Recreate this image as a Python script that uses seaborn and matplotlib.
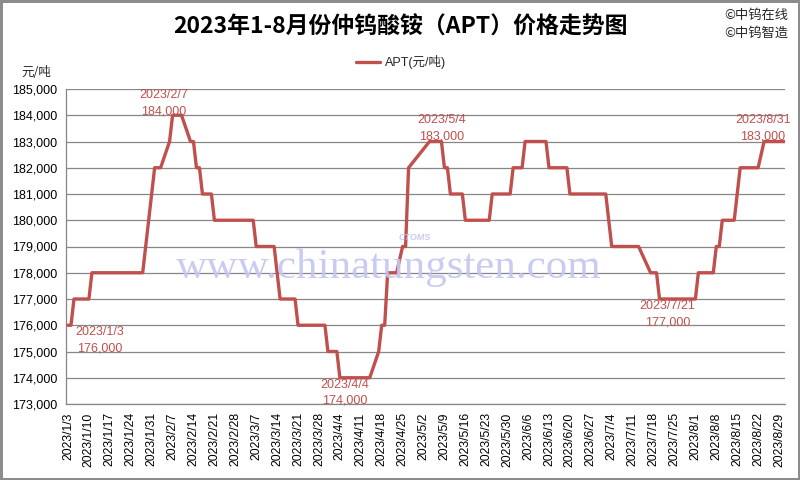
import matplotlib
matplotlib.use("Agg")
import matplotlib.pyplot as plt
import seaborn as sns
import pandas as pd
from matplotlib.ticker import FuncFormatter

# ---------------- data ----------------
dates = ["2023-01-03", "2023-01-04", "2023-01-05", "2023-01-10", "2023-01-11", "2023-01-28",
         "2023-02-01", "2023-02-03", "2023-02-06", "2023-02-07", "2023-02-10", "2023-02-13",
         "2023-02-14", "2023-02-15", "2023-02-16", "2023-02-17", "2023-02-20", "2023-02-21",
         "2023-03-06", "2023-03-07", "2023-03-13", "2023-03-15", "2023-03-20", "2023-03-21",
         "2023-03-30", "2023-03-31",
         "2023-04-03", "2023-04-04", "2023-04-14", "2023-04-17", "2023-04-18", "2023-04-19",
         "2023-04-20", "2023-04-23", "2023-04-25", "2023-04-26", "2023-04-27",
         "2023-05-04", "2023-05-08", "2023-05-09", "2023-05-10", "2023-05-11", "2023-05-15",
         "2023-05-16", "2023-05-24", "2023-05-25", "2023-05-31",
         "2023-06-01", "2023-06-04", "2023-06-05", "2023-06-12", "2023-06-13", "2023-06-19",
         "2023-06-20",
         "2023-07-02", "2023-07-04", "2023-07-13", "2023-07-17", "2023-07-19", "2023-07-20",
         "2023-08-01", "2023-08-02", "2023-08-07", "2023-08-08", "2023-08-09", "2023-08-10",
         "2023-08-14", "2023-08-16", "2023-08-22", "2023-08-24", "2023-08-31"]
prices = [176000, 176000, 177000, 177000, 178000, 178000,
          182000, 182000, 183000, 184000, 184000, 183000,
          183000, 182000, 182000, 181000, 181000, 180000,
          180000, 179000, 179000, 177000, 177000, 176000,
          176000, 175000,
          175000, 174000, 174000, 175000, 176000, 176000,
          178000, 178000, 179000, 179000, 182000,
          183000, 183000, 182000, 182000, 181000, 181000,
          180000, 180000, 181000, 181000,
          182000, 182000, 183000, 183000, 182000, 182000,
          181000,
          181000, 179000, 179000, 178000, 178000, 177000,
          177000, 178000, 178000, 179000, 179000, 180000,
          180000, 182000, 182000, 183000, 183000]

tick_labels = ["2023/1/3", "2023/1/10", "2023/1/17", "2023/1/24", "2023/1/31", "2023/2/7",
               "2023/2/14", "2023/2/21", "2023/2/28", "2023/3/7", "2023/3/14", "2023/3/21",
               "2023/3/28", "2023/4/4", "2023/4/11", "2023/4/18", "2023/4/25", "2023/5/2",
               "2023/5/9", "2023/5/16", "2023/5/23", "2023/5/30", "2023/6/6", "2023/6/13",
               "2023/6/20", "2023/6/27", "2023/7/4", "2023/7/11", "2023/7/18", "2023/7/25",
               "2023/8/1", "2023/8/8", "2023/8/15", "2023/8/22", "2023/8/29"]
y_ticks = [173000, 174000, 175000, 176000, 177000, 178000, 179000,
           180000, 181000, 182000, 183000, 184000, 185000]

annot_dates = ["2023-01-03", "2023-02-07", "2023-04-04", "2023-05-04", "2023-07-21", "2023-08-31"]
annot_values = [176000, 184000, 174000, 183000, 177000, 183000]
annot_offsets = [(32, -15), (-9, 12), (5, -15), (12, 13), (5, -15), (-22, 13)]

series_name = "APT(元/吨)"
title = "2023年1-8月份仲钨酸铵（APT）价格走势图"

# ---------------- style ----------------
sns.set_theme(style="white")
plt.rcParams['font.family'] = ['Liberation Sans', 'Noto Sans CJK SC', 'DejaVu Sans']
LINE = "#C0504D"
GRID = "#878787"

df = pd.DataFrame({"date": pd.to_datetime(dates), "price": prices})

fig = plt.figure(figsize=(8, 4.8), dpi=100)
fig.patch.set_facecolor("white")
fig.patch.set_edgecolor("#8c8c8c")
fig.patch.set_linewidth(2.5)
ax = fig.add_axes([66 / 800, 1 - 404 / 480, (785 - 66) / 800, (404 - 89) / 480])

sns.lineplot(data=df, x="date", y="price", ax=ax, color=LINE, linewidth=2.4,
             label=series_name, zorder=3, legend=False)

start = pd.Timestamp("2023-01-03")
ax.set_xlim(start - pd.Timedelta(days=0.67), start + pd.Timedelta(days=240.0))
ax.set_ylim(173000, 185000)
ax.set_yticks(y_ticks)
ax.yaxis.set_major_formatter(FuncFormatter(lambda v, p: f"{int(v):,}"))
tick_pos = pd.to_datetime(tick_labels, format="%Y/%m/%d")
ax.set_xticks(tick_pos)
ax.set_xticklabels(tick_labels, rotation=90)
ax.set_xlabel("")
ax.set_ylabel("")

ax.grid(axis="y", color=GRID, linewidth=0.9)
ax.grid(axis="x", visible=False)
ax.set_axisbelow(True)
for s in ["top", "right"]:
    ax.spines[s].set_visible(False)
for s in ["left", "bottom"]:
    ax.spines[s].set_color(GRID)
    ax.spines[s].set_linewidth(0.9)
ax.tick_params(axis="both", which="major", direction="out", length=4, width=0.9,
               color=GRID, labelsize=9, labelcolor="black", pad=2)
ax.tick_params(axis="x", labelsize=8.8)

# watermark
fig.text(389 / 800, 1 - 268 / 480, "www.chinatungsten.com", family=["Liberation Serif", "DejaVu Serif"],
         fontsize=31, color="#c3c6f2", ha="center", va="center", zorder=1, alpha=0.9)
fig.text(415 / 800, 1 - 238 / 480, "CTOMS", fontsize=6.5, color="#c3c6f2", style="italic",
         weight="bold", ha="center", va="center", alpha=0.9)

# annotations
for d, v, off in zip(annot_dates, annot_values, annot_offsets):
    d = pd.Timestamp(d)
    lbl = f"{d.year}/{d.month}/{d.day}\n{v:,}"
    ax.annotate(lbl, xy=(d, v), xytext=off, textcoords="offset pixels",
                ha="center", va="center", fontsize=9, color=LINE, linespacing=1.45,
                zorder=4, annotation_clip=False)

# title, legend, unit, credits
fig.text(0.5, 1 - 27 / 480, title, family=["Noto Sans CJK SC"], weight="bold",
         fontsize=16.5, ha="center", va="center", color="black")
handle = plt.Line2D([], [], color=LINE, linewidth=2.4)
fig.legend([handle], [series_name], loc="center", bbox_to_anchor=(401 / 800, 1 - 62 / 480),
           frameon=False, fontsize=9, handlelength=1.9, handletextpad=0.4)
fig.text(36 / 800, 1 - 73 / 480, "元/吨", fontsize=9, ha="center", va="center",
         family=["Noto Sans CJK SC"])
fig.text(788 / 800, 1 - 15 / 480, "©中钨在线", fontsize=9.5, ha="right", va="center",
         family=["Noto Sans CJK SC", "DejaVu Sans"])
fig.text(788 / 800, 1 - 33 / 480, "©中钨智造", fontsize=9.5, ha="right", va="center",
         family=["Noto Sans CJK SC", "DejaVu Sans"])

fig.savefig("out.png", dpi=100, facecolor="white", edgecolor=fig.get_edgecolor())
